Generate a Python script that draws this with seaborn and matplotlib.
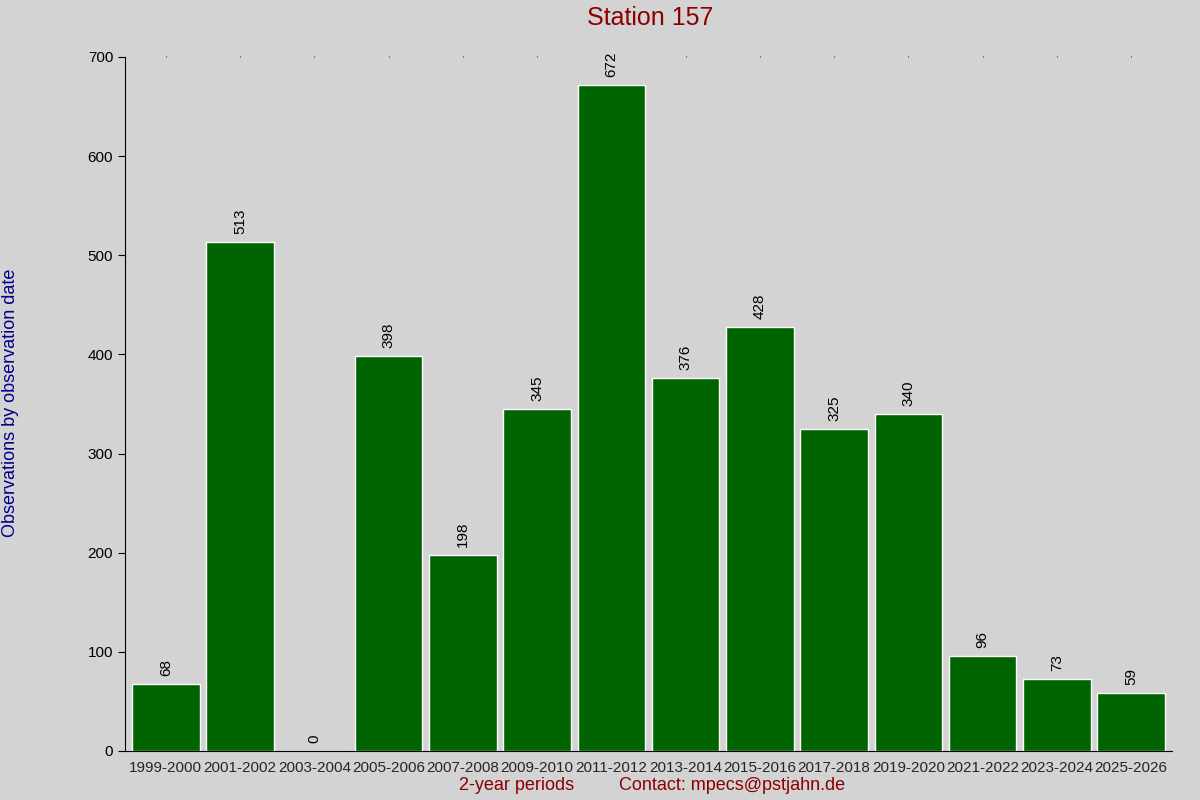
import matplotlib
matplotlib.use("Agg")
import matplotlib.pyplot as plt
import seaborn as sns
import pandas as pd

periods = ["1999-2000","2001-2002","2003-2004","2005-2006","2007-2008","2009-2010","2011-2012",
           "2013-2014","2015-2016","2017-2018","2019-2020","2021-2022","2023-2024","2025-2026"]
counts = [68, 513, 0, 398, 198, 345, 672, 376, 428, 325, 340, 96, 73, 59]

df = pd.DataFrame({"period": periods, "count": counts})

sns.set_style("white")
plt.rcParams['font.family'] = ['Liberation Sans', 'DejaVu Sans']
fig = plt.figure(figsize=(12, 8), dpi=100, facecolor="#d3d3d3")
ax = fig.add_axes([125/1200, 1-751/800, (1172-125)/1200, (751-57)/800])
ax.set_facecolor("#d3d3d3")
sns.barplot(data=df, x="period", y="count", color="#006400", saturation=1, width=0.91, ax=ax)
ax.set_xlim(-0.55, len(periods)-0.45)
ax.set_ylim(0, 700)
ax.set_yticks(range(0, 701, 100))
for i, v in enumerate(counts):
    ax.text(i, v + 8, str(v), rotation=90, ha="center", va="bottom", fontsize=11, color="black")
for s in ["top", "right"]:
    ax.spines[s].set_visible(False)
ax.spines["left"].set_color("black")
ax.spines["bottom"].set_color("black")
ax.tick_params(axis="y", left=True, length=5, labelsize=11, colors="black")
ax.tick_params(axis="x", bottom=False, top=True, length=1, labelsize=11, pad=6)
ax.set_xlabel("")
ax.set_ylabel("")
fig.text(650/1200, 1-18/800, "Station 157", ha="center", va="center", fontsize=18, color="#8b0000")
fig.text(517/1200, 1-786/800, "2-year periods", ha="center", va="center", fontsize=13, color="#8b0000")
fig.text(732/1200, 1-786/800, "Contact: mpecs@pstjahn.de", ha="center", va="center", fontsize=13, color="#8b0000")
fig.text(11/1200, 1-403/800, "Observations by observation date", rotation=90, ha="center", va="center",
         fontsize=13, color="#00008b")
fig.savefig("out.png", dpi=100, facecolor=fig.get_facecolor())
